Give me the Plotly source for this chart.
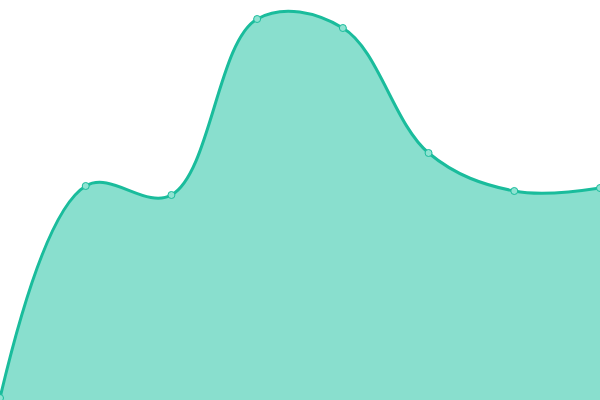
import plotly.graph_objects as go

x_vals = [0, 1, 2, 3, 4, 5, 6, 7]
y_vals = [2, 214, 205, 381, 372, 247, 209, 212]

fig = go.Figure()
fig.add_trace(go.Scatter(
    x=x_vals, y=y_vals,
    mode="lines+markers",
    fill="tozeroy",
    fillcolor="#89dfce",
    line=dict(color="#1abc9c", width=3, shape="spline", smoothing=1.05),
    marker=dict(size=7, color="#8fe3d2", line=dict(color="#1abc9c", width=1)),
    hoverinfo="skip",
))
fig.update_layout(
    width=600, height=400,
    margin=dict(t=0, l=0, r=0, b=0),
    paper_bgcolor="white", plot_bgcolor="white",
    showlegend=False,
    xaxis=dict(visible=False, range=[0, 7]),
    yaxis=dict(visible=False, range=[0, 400]),
)
# drop the browser's default body margin so the chart fills the window
fig.write_html("out.html", config={"displayModeBar": False},
               post_script="document.body.style.margin='0';")
